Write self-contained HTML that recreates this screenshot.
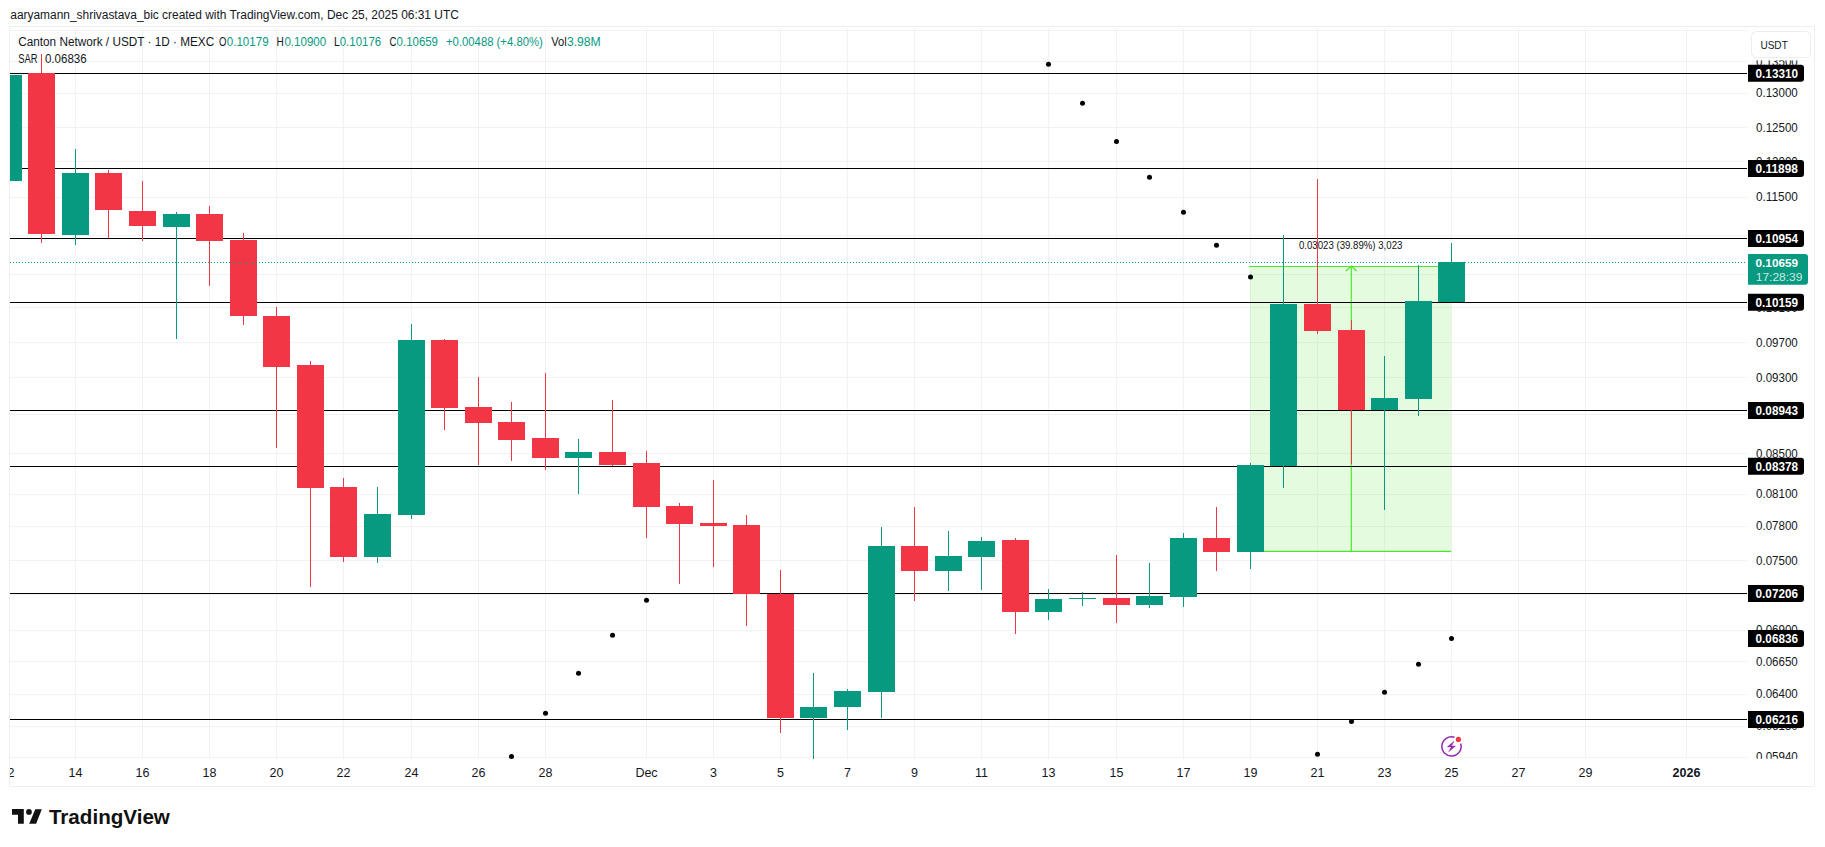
<!DOCTYPE html><html><head><meta charset="utf-8"><style>html,body{margin:0;padding:0;background:#fff;}body{width:1825px;height:847px;overflow:hidden;}svg{display:block;}text{font-family:"Liberation Sans",sans-serif;}</style></head><body>
<svg width="1825" height="847" viewBox="0 0 1825 847">
<rect x="0" y="0" width="1825" height="847" fill="#fff"/>
<defs><clipPath id="pane"><rect x="10" y="28" width="1737" height="731.5"/></clipPath></defs>
<text x="10.3" y="18.7" font-size="12" fill="#131722" textLength="448.5" lengthAdjust="spacingAndGlyphs">aaryamann_shrivastava_bic created with TradingView.com, Dec 25, 2025 06:31 UTC</text>
<rect x="9.5" y="26.5" width="1805" height="760" fill="none" stroke="#eeeeee" stroke-width="1"/>
<g clip-path="url(#pane)">
<line x1="8.5" y1="28" x2="8.5" y2="759.5" stroke="#f1f3f2" stroke-width="1"/>
<line x1="75.5" y1="28" x2="75.5" y2="759.5" stroke="#f1f3f2" stroke-width="1"/>
<line x1="142.5" y1="28" x2="142.5" y2="759.5" stroke="#f1f3f2" stroke-width="1"/>
<line x1="209.5" y1="28" x2="209.5" y2="759.5" stroke="#f1f3f2" stroke-width="1"/>
<line x1="276.5" y1="28" x2="276.5" y2="759.5" stroke="#f1f3f2" stroke-width="1"/>
<line x1="343.5" y1="28" x2="343.5" y2="759.5" stroke="#f1f3f2" stroke-width="1"/>
<line x1="411.5" y1="28" x2="411.5" y2="759.5" stroke="#f1f3f2" stroke-width="1"/>
<line x1="478.5" y1="28" x2="478.5" y2="759.5" stroke="#f1f3f2" stroke-width="1"/>
<line x1="545.5" y1="28" x2="545.5" y2="759.5" stroke="#f1f3f2" stroke-width="1"/>
<line x1="646.5" y1="28" x2="646.5" y2="759.5" stroke="#f1f3f2" stroke-width="1"/>
<line x1="713.5" y1="28" x2="713.5" y2="759.5" stroke="#f1f3f2" stroke-width="1"/>
<line x1="780.5" y1="28" x2="780.5" y2="759.5" stroke="#f1f3f2" stroke-width="1"/>
<line x1="847.5" y1="28" x2="847.5" y2="759.5" stroke="#f1f3f2" stroke-width="1"/>
<line x1="914.5" y1="28" x2="914.5" y2="759.5" stroke="#f1f3f2" stroke-width="1"/>
<line x1="981.5" y1="28" x2="981.5" y2="759.5" stroke="#f1f3f2" stroke-width="1"/>
<line x1="1048.5" y1="28" x2="1048.5" y2="759.5" stroke="#f1f3f2" stroke-width="1"/>
<line x1="1116.5" y1="28" x2="1116.5" y2="759.5" stroke="#f1f3f2" stroke-width="1"/>
<line x1="1183.5" y1="28" x2="1183.5" y2="759.5" stroke="#f1f3f2" stroke-width="1"/>
<line x1="1250.5" y1="28" x2="1250.5" y2="759.5" stroke="#f1f3f2" stroke-width="1"/>
<line x1="1317.5" y1="28" x2="1317.5" y2="759.5" stroke="#f1f3f2" stroke-width="1"/>
<line x1="1384.5" y1="28" x2="1384.5" y2="759.5" stroke="#f1f3f2" stroke-width="1"/>
<line x1="1451.5" y1="28" x2="1451.5" y2="759.5" stroke="#f1f3f2" stroke-width="1"/>
<line x1="1518.5" y1="28" x2="1518.5" y2="759.5" stroke="#f1f3f2" stroke-width="1"/>
<line x1="1585.5" y1="28" x2="1585.5" y2="759.5" stroke="#f1f3f2" stroke-width="1"/>
<line x1="1686.5" y1="28" x2="1686.5" y2="759.5" stroke="#f1f3f2" stroke-width="1"/>
<line x1="10" y1="30.5" x2="1747" y2="30.5" stroke="#f1f3f2" stroke-width="1"/>
<line x1="10" y1="61.5" x2="1747" y2="61.5" stroke="#f1f3f2" stroke-width="1"/>
<line x1="10" y1="93.5" x2="1747" y2="93.5" stroke="#f1f3f2" stroke-width="1"/>
<line x1="10" y1="127.5" x2="1747" y2="127.5" stroke="#f1f3f2" stroke-width="1"/>
<line x1="10" y1="161.5" x2="1747" y2="161.5" stroke="#f1f3f2" stroke-width="1"/>
<line x1="10" y1="197.5" x2="1747" y2="197.5" stroke="#f1f3f2" stroke-width="1"/>
<line x1="10" y1="235.5" x2="1747" y2="235.5" stroke="#f1f3f2" stroke-width="1"/>
<line x1="10" y1="274.5" x2="1747" y2="274.5" stroke="#f1f3f2" stroke-width="1"/>
<line x1="10" y1="307.5" x2="1747" y2="307.5" stroke="#f1f3f2" stroke-width="1"/>
<line x1="10" y1="342.5" x2="1747" y2="342.5" stroke="#f1f3f2" stroke-width="1"/>
<line x1="10" y1="377.5" x2="1747" y2="377.5" stroke="#f1f3f2" stroke-width="1"/>
<line x1="10" y1="414.5" x2="1747" y2="414.5" stroke="#f1f3f2" stroke-width="1"/>
<line x1="10" y1="453.5" x2="1747" y2="453.5" stroke="#f1f3f2" stroke-width="1"/>
<line x1="10" y1="494.5" x2="1747" y2="494.5" stroke="#f1f3f2" stroke-width="1"/>
<line x1="10" y1="526.5" x2="1747" y2="526.5" stroke="#f1f3f2" stroke-width="1"/>
<line x1="10" y1="560.5" x2="1747" y2="560.5" stroke="#f1f3f2" stroke-width="1"/>
<line x1="10" y1="594.5" x2="1747" y2="594.5" stroke="#f1f3f2" stroke-width="1"/>
<line x1="10" y1="630.5" x2="1747" y2="630.5" stroke="#f1f3f2" stroke-width="1"/>
<line x1="10" y1="661.5" x2="1747" y2="661.5" stroke="#f1f3f2" stroke-width="1"/>
<line x1="10" y1="694.5" x2="1747" y2="694.5" stroke="#f1f3f2" stroke-width="1"/>
<line x1="10" y1="726.5" x2="1747" y2="726.5" stroke="#f1f3f2" stroke-width="1"/>
<line x1="10" y1="757.5" x2="1747" y2="757.5" stroke="#f1f3f2" stroke-width="1"/>
<rect x="1250" y="266" width="201.3" height="285.3" fill="rgba(76,230,40,0.15)"/>
<line x1="1249" y1="266.5" x2="1451.3" y2="266.5" stroke="#4ce62a" stroke-width="1.2"/>
<line x1="1250" y1="551.3" x2="1451.3" y2="551.3" stroke="#4ce62a" stroke-width="1.2"/>
<line x1="1351.3" y1="266.5" x2="1351.3" y2="551.3" stroke="#4ce62a" stroke-width="1.2"/>
<polyline points="1346,271 1351.3,266 1356.5,271" fill="none" stroke="#4ce62a" stroke-width="1.2"/>
<text x="1298.9" y="249" font-size="10.2" fill="#111" textLength="103.5" lengthAdjust="spacingAndGlyphs">0.03023 (39.89%) 3,023</text>
<line x1="10" y1="73.5" x2="1747" y2="73.5" stroke="#000" stroke-width="1"/>
<line x1="10" y1="168.5" x2="1747" y2="168.5" stroke="#000" stroke-width="1"/>
<line x1="10" y1="238.5" x2="1747" y2="238.5" stroke="#000" stroke-width="1"/>
<line x1="10" y1="302.5" x2="1747" y2="302.5" stroke="#000" stroke-width="1"/>
<line x1="10" y1="410.5" x2="1747" y2="410.5" stroke="#000" stroke-width="1"/>
<line x1="10" y1="466.5" x2="1747" y2="466.5" stroke="#000" stroke-width="1"/>
<line x1="10" y1="593.5" x2="1747" y2="593.5" stroke="#000" stroke-width="1"/>
<line x1="10" y1="719.5" x2="1747" y2="719.5" stroke="#000" stroke-width="1"/>
<rect x="-5" y="75" width="27" height="106" fill="#089981"/>
<rect x="41" y="54.00" width="1" height="189.00" fill="#f23645"/>
<rect x="28" y="73" width="27" height="161" fill="#f23645"/>
<rect x="75" y="149.00" width="1" height="96.00" fill="#089981"/>
<rect x="62" y="173" width="27" height="62" fill="#089981"/>
<rect x="108" y="170.00" width="1" height="68.00" fill="#f23645"/>
<rect x="95" y="173" width="27" height="37" fill="#f23645"/>
<rect x="142" y="181.00" width="1" height="60.00" fill="#f23645"/>
<rect x="129" y="211" width="27" height="15" fill="#f23645"/>
<rect x="176" y="212.00" width="1" height="127.00" fill="#089981"/>
<rect x="163" y="214" width="27" height="13" fill="#089981"/>
<rect x="209" y="206.00" width="1" height="80.00" fill="#f23645"/>
<rect x="196" y="214" width="27" height="27" fill="#f23645"/>
<rect x="243" y="233.00" width="1" height="92.00" fill="#f23645"/>
<rect x="230" y="240" width="27" height="76" fill="#f23645"/>
<rect x="276" y="307.00" width="1" height="141.00" fill="#f23645"/>
<rect x="263" y="316" width="27" height="51" fill="#f23645"/>
<rect x="310" y="361.00" width="1" height="226.00" fill="#f23645"/>
<rect x="297" y="365" width="27" height="123" fill="#f23645"/>
<rect x="343" y="478.00" width="1" height="84.00" fill="#f23645"/>
<rect x="330" y="487" width="27" height="70" fill="#f23645"/>
<rect x="377" y="487.00" width="1" height="76.00" fill="#089981"/>
<rect x="364" y="514" width="27" height="43" fill="#089981"/>
<rect x="411" y="324.00" width="1" height="195.00" fill="#089981"/>
<rect x="398" y="340" width="27" height="175" fill="#089981"/>
<rect x="444" y="339.00" width="1" height="91.00" fill="#f23645"/>
<rect x="431" y="340" width="27" height="68" fill="#f23645"/>
<rect x="478" y="377.00" width="1" height="88.00" fill="#f23645"/>
<rect x="465" y="407" width="27" height="16" fill="#f23645"/>
<rect x="511" y="402.00" width="1" height="59.00" fill="#f23645"/>
<rect x="498" y="422" width="27" height="18" fill="#f23645"/>
<rect x="545" y="373.00" width="1" height="97.00" fill="#f23645"/>
<rect x="532" y="438" width="27" height="20" fill="#f23645"/>
<rect x="578" y="439.00" width="1" height="55.00" fill="#089981"/>
<rect x="565" y="452" width="27" height="6" fill="#089981"/>
<rect x="612" y="400.00" width="1" height="66.00" fill="#f23645"/>
<rect x="599" y="452" width="27" height="13" fill="#f23645"/>
<rect x="646" y="451.00" width="1" height="87.00" fill="#f23645"/>
<rect x="633" y="463" width="27" height="44" fill="#f23645"/>
<rect x="679" y="503.00" width="1" height="81.00" fill="#f23645"/>
<rect x="666" y="506" width="27" height="18" fill="#f23645"/>
<rect x="713" y="480.00" width="1" height="87.00" fill="#f23645"/>
<rect x="700" y="523" width="27" height="3" fill="#f23645"/>
<rect x="746" y="515.00" width="1" height="111.00" fill="#f23645"/>
<rect x="733" y="525" width="27" height="69" fill="#f23645"/>
<rect x="780" y="570.00" width="1" height="163.00" fill="#f23645"/>
<rect x="767" y="594" width="27" height="124" fill="#f23645"/>
<rect x="813" y="673.00" width="1" height="86.00" fill="#089981"/>
<rect x="800" y="707" width="27" height="11" fill="#089981"/>
<rect x="847" y="689.00" width="1" height="41.00" fill="#089981"/>
<rect x="834" y="691" width="27" height="16" fill="#089981"/>
<rect x="881" y="527.00" width="1" height="191.00" fill="#089981"/>
<rect x="868" y="546" width="27" height="146" fill="#089981"/>
<rect x="914" y="507.00" width="1" height="94.00" fill="#f23645"/>
<rect x="901" y="546" width="27" height="25" fill="#f23645"/>
<rect x="948" y="531.00" width="1" height="60.00" fill="#089981"/>
<rect x="935" y="556" width="27" height="15" fill="#089981"/>
<rect x="981" y="537.00" width="1" height="53.00" fill="#089981"/>
<rect x="968" y="541" width="27" height="16" fill="#089981"/>
<rect x="1015" y="538.00" width="1" height="96.00" fill="#f23645"/>
<rect x="1002" y="540" width="27" height="72" fill="#f23645"/>
<rect x="1048" y="589.00" width="1" height="31.00" fill="#089981"/>
<rect x="1035" y="599" width="27" height="13" fill="#089981"/>
<rect x="1082" y="592.00" width="1" height="14.00" fill="#089981"/>
<rect x="1069" y="598" width="27" height="1" fill="#089981"/>
<rect x="1116" y="555.00" width="1" height="68.00" fill="#f23645"/>
<rect x="1103" y="598" width="27" height="7" fill="#f23645"/>
<rect x="1149" y="563.00" width="1" height="45.00" fill="#089981"/>
<rect x="1136" y="596" width="27" height="9" fill="#089981"/>
<rect x="1183" y="533.00" width="1" height="74.00" fill="#089981"/>
<rect x="1170" y="538" width="27" height="59" fill="#089981"/>
<rect x="1216" y="507.00" width="1" height="64.00" fill="#f23645"/>
<rect x="1203" y="538" width="27" height="14" fill="#f23645"/>
<rect x="1250" y="463.00" width="1" height="106.00" fill="#089981"/>
<rect x="1237" y="465" width="27" height="87" fill="#089981"/>
<rect x="1283" y="235.00" width="1" height="253.00" fill="#089981"/>
<rect x="1270" y="304" width="27" height="162" fill="#089981"/>
<rect x="1317" y="179.00" width="1" height="155.00" fill="#f23645"/>
<rect x="1304" y="304" width="27" height="27" fill="#f23645"/>
<rect x="1351" y="320.00" width="1" height="144.00" fill="#f23645"/>
<rect x="1338" y="330" width="27" height="80" fill="#f23645"/>
<rect x="1384" y="356.00" width="1" height="154.00" fill="#089981"/>
<rect x="1371" y="398" width="27" height="12" fill="#089981"/>
<rect x="1418" y="265.00" width="1" height="151.00" fill="#089981"/>
<rect x="1405" y="301" width="27" height="98" fill="#089981"/>
<rect x="1451" y="243.00" width="1" height="59.00" fill="#089981"/>
<rect x="1438" y="262" width="27" height="40" fill="#089981"/>
<circle cx="511.50" cy="756.40" r="2.5" fill="#000"/>
<circle cx="545.50" cy="713.20" r="2.5" fill="#000"/>
<circle cx="578.50" cy="673.20" r="2.5" fill="#000"/>
<circle cx="612.50" cy="635.30" r="2.5" fill="#000"/>
<circle cx="646.50" cy="600.20" r="2.5" fill="#000"/>
<circle cx="1048.50" cy="64.20" r="2.5" fill="#000"/>
<circle cx="1082.50" cy="103.20" r="2.5" fill="#000"/>
<circle cx="1116.50" cy="141.40" r="2.5" fill="#000"/>
<circle cx="1149.50" cy="177.20" r="2.5" fill="#000"/>
<circle cx="1183.50" cy="212.30" r="2.5" fill="#000"/>
<circle cx="1216.50" cy="245.20" r="2.5" fill="#000"/>
<circle cx="1250.50" cy="277.10" r="2.5" fill="#000"/>
<circle cx="1317.50" cy="754.30" r="2.5" fill="#000"/>
<circle cx="1351.50" cy="721.40" r="2.5" fill="#000"/>
<circle cx="1384.50" cy="692.30" r="2.5" fill="#000"/>
<circle cx="1418.50" cy="664.30" r="2.5" fill="#000"/>
<circle cx="1451.50" cy="638.40" r="2.5" fill="#000"/>
<line x1="10" y1="262.5" x2="1747" y2="262.5" stroke="#089981" stroke-width="1" stroke-dasharray="1 2"/>
<circle cx="1451.5" cy="746.4" r="10.3" fill="#fff"/>
<path d="M1460.6,743.4 A9.6,9.6 0 1 1 1454.5,737.3" fill="none" stroke="#9427b0" stroke-width="1.5"/>
<path d="M1454.0,741.0 L1447.2,746.9 L1451.2,746.9 L1448.5,752.0 L1455.6,745.9 L1451.6,745.9 Z" fill="#9427b0" stroke="#9427b0" stroke-width="0.3" stroke-linejoin="round"/>
<circle cx="1458.4" cy="739.4" r="2.6" fill="#f23645"/>
</g>
<text x="18.2" y="45.6" font-size="12" fill="#131722" textLength="196" lengthAdjust="spacingAndGlyphs">Canton Network / USDT · 1D · MEXC</text>
<text x="219.1" y="45.6" font-size="12" fill="#131722" textLength="7.4" lengthAdjust="spacingAndGlyphs">O</text>
<text x="226.8" y="45.6" font-size="12" fill="#089981" textLength="41.8" lengthAdjust="spacingAndGlyphs">0.10179</text>
<text x="276.6" y="45.6" font-size="12" fill="#131722" textLength="7.3" lengthAdjust="spacingAndGlyphs">H</text>
<text x="284.4" y="45.6" font-size="12" fill="#089981" textLength="41.8" lengthAdjust="spacingAndGlyphs">0.10900</text>
<text x="334" y="45.6" font-size="12" fill="#131722" textLength="5.8" lengthAdjust="spacingAndGlyphs">L</text>
<text x="339.7" y="45.6" font-size="12" fill="#089981" textLength="41.5" lengthAdjust="spacingAndGlyphs">0.10176</text>
<text x="389.4" y="45.6" font-size="12" fill="#131722" textLength="7" lengthAdjust="spacingAndGlyphs">C</text>
<text x="396.6" y="45.6" font-size="12" fill="#089981" textLength="41.4" lengthAdjust="spacingAndGlyphs">0.10659</text>
<text x="446" y="45.6" font-size="12" fill="#089981" textLength="96.8" lengthAdjust="spacingAndGlyphs">+0.00488 (+4.80%)</text>
<text x="551.2" y="45.6" font-size="12" fill="#131722" textLength="15.5" lengthAdjust="spacingAndGlyphs">Vol</text>
<text x="566.9" y="45.6" font-size="12" fill="#089981" textLength="33.9" lengthAdjust="spacingAndGlyphs">3.98M</text>
<text x="18.2" y="62.7" font-size="12" fill="#131722" textLength="19.3" lengthAdjust="spacingAndGlyphs">SAR</text>
<text x="44.9" y="62.7" font-size="12" fill="#131722" textLength="41.8" lengthAdjust="spacingAndGlyphs">0.06836</text>
<clipPath id="pax"><rect x="1748" y="28" width="66" height="730.7"/></clipPath><g clip-path="url(#pax)">
<text x="1756" y="65.60" font-size="12.8" fill="#131722" textLength="41.8" lengthAdjust="spacingAndGlyphs">0.13500</text>
<text x="1756" y="97.40" font-size="12.8" fill="#131722" textLength="41.8" lengthAdjust="spacingAndGlyphs">0.13000</text>
<text x="1756" y="131.60" font-size="12.8" fill="#131722" textLength="41.8" lengthAdjust="spacingAndGlyphs">0.12500</text>
<text x="1756" y="165.60" font-size="12.8" fill="#131722" textLength="41.8" lengthAdjust="spacingAndGlyphs">0.12000</text>
<text x="1756" y="201.10" font-size="12.8" fill="#131722" textLength="41.8" lengthAdjust="spacingAndGlyphs">0.11500</text>
<text x="1756" y="239.40" font-size="12.8" fill="#131722" textLength="41.8" lengthAdjust="spacingAndGlyphs">0.11000</text>
<text x="1756" y="278.40" font-size="12.8" fill="#131722" textLength="41.8" lengthAdjust="spacingAndGlyphs">0.10500</text>
<text x="1756" y="311.50" font-size="12.8" fill="#131722" textLength="41.8" lengthAdjust="spacingAndGlyphs">0.10100</text>
<text x="1756" y="346.70" font-size="12.8" fill="#131722" textLength="41.8" lengthAdjust="spacingAndGlyphs">0.09700</text>
<text x="1756" y="381.70" font-size="12.8" fill="#131722" textLength="41.8" lengthAdjust="spacingAndGlyphs">0.09300</text>
<text x="1756" y="418.10" font-size="12.8" fill="#131722" textLength="41.8" lengthAdjust="spacingAndGlyphs">0.08900</text>
<text x="1756" y="457.50" font-size="12.8" fill="#131722" textLength="41.8" lengthAdjust="spacingAndGlyphs">0.08500</text>
<text x="1756" y="498.30" font-size="12.8" fill="#131722" textLength="41.8" lengthAdjust="spacingAndGlyphs">0.08100</text>
<text x="1756" y="530.10" font-size="12.8" fill="#131722" textLength="41.8" lengthAdjust="spacingAndGlyphs">0.07800</text>
<text x="1756" y="564.50" font-size="12.8" fill="#131722" textLength="41.8" lengthAdjust="spacingAndGlyphs">0.07500</text>
<text x="1756" y="598.60" font-size="12.8" fill="#131722" textLength="41.8" lengthAdjust="spacingAndGlyphs">0.07200</text>
<text x="1756" y="634.30" font-size="12.8" fill="#131722" textLength="41.8" lengthAdjust="spacingAndGlyphs">0.06900</text>
<text x="1756" y="665.50" font-size="12.8" fill="#131722" textLength="41.8" lengthAdjust="spacingAndGlyphs">0.06650</text>
<text x="1756" y="698.10" font-size="12.8" fill="#131722" textLength="41.8" lengthAdjust="spacingAndGlyphs">0.06400</text>
<text x="1756" y="730.40" font-size="12.8" fill="#131722" textLength="41.8" lengthAdjust="spacingAndGlyphs">0.06150</text>
<text x="1756" y="761.40" font-size="12.8" fill="#131722" textLength="41.8" lengthAdjust="spacingAndGlyphs">0.05940</text>
</g>
<path d="M1748,64.80 h53 a3,3 0 0 1 3,3 v11 a3,3 0 0 1 -3,3 h-53 z" fill="#000"/>
<text x="1755.6" y="77.70" font-size="12.2" font-weight="bold" fill="#fff" textLength="42.4" lengthAdjust="spacingAndGlyphs">0.13310</text>
<path d="M1748,160.00 h53 a3,3 0 0 1 3,3 v11 a3,3 0 0 1 -3,3 h-53 z" fill="#000"/>
<text x="1755.6" y="172.90" font-size="12.2" font-weight="bold" fill="#fff" textLength="42.4" lengthAdjust="spacingAndGlyphs">0.11898</text>
<path d="M1748,229.90 h53 a3,3 0 0 1 3,3 v11 a3,3 0 0 1 -3,3 h-53 z" fill="#000"/>
<text x="1755.6" y="242.80" font-size="12.2" font-weight="bold" fill="#fff" textLength="42.4" lengthAdjust="spacingAndGlyphs">0.10954</text>
<path d="M1748,293.80 h53 a3,3 0 0 1 3,3 v11 a3,3 0 0 1 -3,3 h-53 z" fill="#000"/>
<text x="1755.6" y="306.70" font-size="12.2" font-weight="bold" fill="#fff" textLength="42.4" lengthAdjust="spacingAndGlyphs">0.10159</text>
<path d="M1748,402.10 h53 a3,3 0 0 1 3,3 v11 a3,3 0 0 1 -3,3 h-53 z" fill="#000"/>
<text x="1755.6" y="415.00" font-size="12.2" font-weight="bold" fill="#fff" textLength="42.4" lengthAdjust="spacingAndGlyphs">0.08943</text>
<path d="M1748,457.80 h53 a3,3 0 0 1 3,3 v11 a3,3 0 0 1 -3,3 h-53 z" fill="#000"/>
<text x="1755.6" y="470.70" font-size="12.2" font-weight="bold" fill="#fff" textLength="42.4" lengthAdjust="spacingAndGlyphs">0.08378</text>
<path d="M1748,585.10 h53 a3,3 0 0 1 3,3 v11 a3,3 0 0 1 -3,3 h-53 z" fill="#000"/>
<text x="1755.6" y="598.00" font-size="12.2" font-weight="bold" fill="#fff" textLength="42.4" lengthAdjust="spacingAndGlyphs">0.07206</text>
<path d="M1748,630.00 h53 a3,3 0 0 1 3,3 v11 a3,3 0 0 1 -3,3 h-53 z" fill="#000"/>
<text x="1755.6" y="642.90" font-size="12.2" font-weight="bold" fill="#fff" textLength="42.4" lengthAdjust="spacingAndGlyphs">0.06836</text>
<path d="M1748,711.00 h53 a3,3 0 0 1 3,3 v11 a3,3 0 0 1 -3,3 h-53 z" fill="#000"/>
<text x="1755.6" y="723.90" font-size="12.2" font-weight="bold" fill="#fff" textLength="42.4" lengthAdjust="spacingAndGlyphs">0.06216</text>
<path d="M1748,254 h57 a3,3 0 0 1 3,3 v24.7 a3,3 0 0 1 -3,3 h-57 z" fill="#089981"/>
<text x="1755.6" y="266.8" font-size="11.5" font-weight="bold" fill="#fff" textLength="42.4" lengthAdjust="spacingAndGlyphs">0.10659</text>
<text x="1755.8" y="280.8" font-size="11.5" fill="rgba(255,255,255,0.8)" textLength="46.6" lengthAdjust="spacingAndGlyphs">17:28:39</text>
<rect x="1748" y="28" width="66" height="32.4" fill="#fff"/>
<rect x="1751.5" y="31.5" width="59" height="26" rx="5" fill="#fff" stroke="#ededed" stroke-width="1"/>
<text x="1760.4" y="48.6" font-size="11.8" fill="#131722" textLength="27.4" lengthAdjust="spacingAndGlyphs">USDT</text>
<clipPath id="tax"><rect x="10" y="758" width="1737" height="28"/></clipPath><g clip-path="url(#tax)">
<text x="7.50" y="776.9" font-size="12.5" fill="#131722" text-anchor="middle">12</text>
<text x="75.50" y="776.9" font-size="12.5" fill="#131722" text-anchor="middle">14</text>
<text x="142.50" y="776.9" font-size="12.5" fill="#131722" text-anchor="middle">16</text>
<text x="209.50" y="776.9" font-size="12.5" fill="#131722" text-anchor="middle">18</text>
<text x="276.50" y="776.9" font-size="12.5" fill="#131722" text-anchor="middle">20</text>
<text x="343.50" y="776.9" font-size="12.5" fill="#131722" text-anchor="middle">22</text>
<text x="411.50" y="776.9" font-size="12.5" fill="#131722" text-anchor="middle">24</text>
<text x="478.50" y="776.9" font-size="12.5" fill="#131722" text-anchor="middle">26</text>
<text x="545.50" y="776.9" font-size="12.5" fill="#131722" text-anchor="middle">28</text>
<text x="646.50" y="776.9" font-size="12.5" fill="#131722" text-anchor="middle">Dec</text>
<text x="713.50" y="776.9" font-size="12.5" fill="#131722" text-anchor="middle">3</text>
<text x="780.50" y="776.9" font-size="12.5" fill="#131722" text-anchor="middle">5</text>
<text x="847.50" y="776.9" font-size="12.5" fill="#131722" text-anchor="middle">7</text>
<text x="914.50" y="776.9" font-size="12.5" fill="#131722" text-anchor="middle">9</text>
<text x="981.50" y="776.9" font-size="12.5" fill="#131722" text-anchor="middle">11</text>
<text x="1048.50" y="776.9" font-size="12.5" fill="#131722" text-anchor="middle">13</text>
<text x="1116.50" y="776.9" font-size="12.5" fill="#131722" text-anchor="middle">15</text>
<text x="1183.50" y="776.9" font-size="12.5" fill="#131722" text-anchor="middle">17</text>
<text x="1250.50" y="776.9" font-size="12.5" fill="#131722" text-anchor="middle">19</text>
<text x="1317.50" y="776.9" font-size="12.5" fill="#131722" text-anchor="middle">21</text>
<text x="1384.50" y="776.9" font-size="12.5" fill="#131722" text-anchor="middle">23</text>
<text x="1451.50" y="776.9" font-size="12.5" fill="#131722" text-anchor="middle">25</text>
<text x="1518.50" y="776.9" font-size="12.5" fill="#131722" text-anchor="middle">27</text>
<text x="1585.50" y="776.9" font-size="12.5" fill="#131722" text-anchor="middle">29</text>
<text x="1686.50" y="776.9" font-size="12.5" fill="#131722" text-anchor="middle" font-weight="bold">2026</text>
</g>
<g fill="#111"><path d="M12,809 H23.8 V823.8 H18 V814.7 H12 Z"/><circle cx="28.95" cy="811.9" r="2.9"/><path d="M35.3,809.2 H41.8 L36.1,823.8 H29.2 Z"/></g>
<text x="48.9" y="823.8" font-size="20" font-weight="bold" fill="#111" textLength="121" lengthAdjust="spacingAndGlyphs">TradingView</text>
</svg></body></html>
